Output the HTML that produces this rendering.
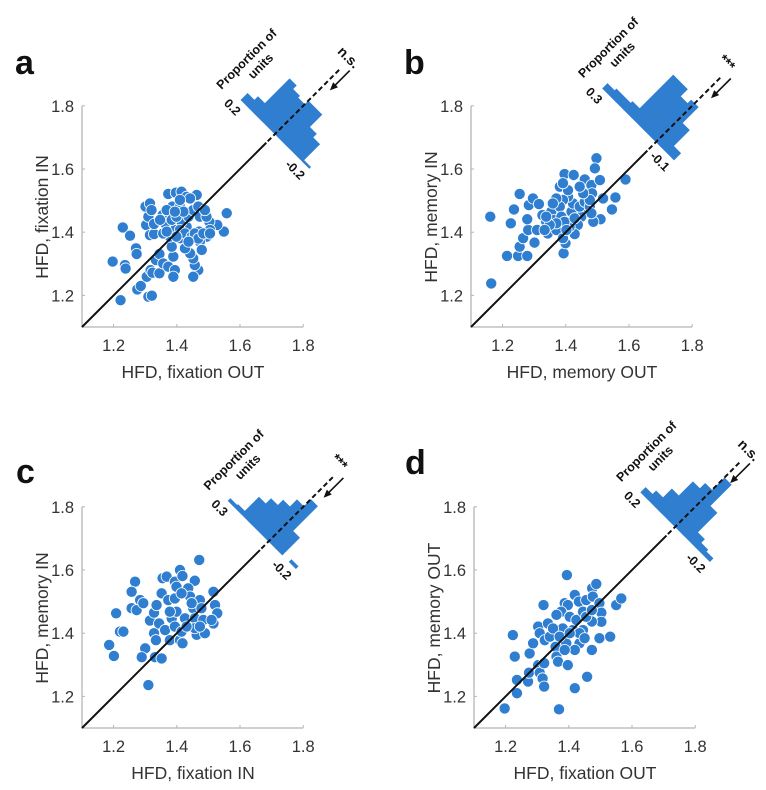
<!DOCTYPE html>
<html><head><meta charset="utf-8"><style>
html,body{margin:0;padding:0;background:#fff;}
svg{display:block;font-family:"Liberation Sans",sans-serif;}
</style></head><body>
<svg id="fig" width="766" height="790" viewBox="0 0 766 790"></svg>
<script>
// ---- data ----
const aX=[1.197,1.229,1.236,1.238,1.252,1.271,1.273,1.222,1.275,1.286,1.305,1.310,1.321,1.317,1.323,1.345,1.334,1.345,1.357,1.373,1.303,1.310,1.301,1.315,1.320,1.315,1.328,1.328,1.355,1.373,1.397,1.415,1.431,1.463,1.386,1.410,1.558,1.549,1.528,1.503,1.505,1.495,1.471,1.473,1.479,1.468,1.452,1.457,1.452,1.442,1.426,1.410,1.389,1.394,1.389,1.384,1.378,1.357,1.363,1.368,1.431,1.415,1.437,1.452,1.468,1.442,1.410,1.473,1.494,1.489,1.394,1.410,1.426,1.447,1.457,1.468,1.437,1.399,1.368,1.347,1.384,1.399,1.421,1.394,1.484,1.505];
const aY=[1.307,1.415,1.296,1.285,1.389,1.349,1.331,1.185,1.219,1.230,1.259,1.196,1.199,1.280,1.272,1.270,1.312,1.331,1.301,1.291,1.423,1.449,1.481,1.491,1.470,1.391,1.394,1.426,1.454,1.521,1.525,1.528,1.512,1.518,1.481,1.481,1.460,1.402,1.423,1.433,1.407,1.386,1.402,1.370,1.344,1.280,1.259,1.296,1.317,1.333,1.349,1.381,1.323,1.280,1.259,1.354,1.386,1.396,1.428,1.470,1.417,1.433,1.449,1.470,1.481,1.507,1.502,1.449,1.449,1.470,1.407,1.407,1.396,1.386,1.396,1.380,1.370,1.386,1.402,1.439,1.439,1.449,1.465,1.465,1.396,1.396];
const bX=[1.161,1.164,1.214,1.226,1.236,1.254,1.249,1.254,1.278,1.265,1.281,1.278,1.283,1.296,1.301,1.309,1.315,1.326,1.338,1.343,1.354,1.370,1.381,1.396,1.393,1.399,1.391,1.425,1.460,1.481,1.483,1.497,1.492,1.508,1.589,1.557,1.546,1.518,1.510,1.487,1.460,1.449,1.438,1.428,1.412,1.418,1.423,1.407,1.391,1.381,1.370,1.359,1.365,1.386,1.396,1.402,1.370,1.349,1.338,1.333,1.444,1.460,1.476,1.476,1.455,1.444,1.407,1.391,1.481,1.428];
const bY=[1.449,1.238,1.325,1.428,1.472,1.521,1.325,1.354,1.325,1.381,1.407,1.441,1.486,1.507,1.367,1.407,1.489,1.454,1.433,1.396,1.465,1.407,1.544,1.584,1.333,1.365,1.381,1.581,1.567,1.549,1.523,1.634,1.602,1.565,1.567,1.510,1.472,1.507,1.441,1.433,1.465,1.449,1.423,1.394,1.417,1.465,1.491,1.512,1.502,1.481,1.507,1.491,1.439,1.449,1.433,1.407,1.428,1.423,1.449,1.407,1.481,1.496,1.481,1.502,1.523,1.544,1.533,1.555,1.460,1.444];
const cX=[1.186,1.201,1.208,1.220,1.231,1.257,1.268,1.257,1.273,1.284,1.294,1.300,1.289,1.310,1.331,1.352,1.328,1.334,1.315,1.328,1.336,1.344,1.352,1.355,1.368,1.363,1.378,1.384,1.373,1.394,1.410,1.418,1.471,1.457,1.399,1.399,1.394,1.410,1.418,1.415,1.426,1.436,1.442,1.452,1.457,1.463,1.457,1.473,1.478,1.484,1.489,1.516,1.521,1.528,1.516,1.510,1.431,1.447,1.473,1.394,1.378,1.415];
const cY=[1.363,1.328,1.463,1.405,1.405,1.479,1.563,1.531,1.473,1.505,1.495,1.352,1.324,1.236,1.324,1.320,1.400,1.378,1.440,1.465,1.489,1.431,1.526,1.574,1.579,1.410,1.378,1.447,1.505,1.563,1.600,1.581,1.632,1.566,1.547,1.468,1.421,1.378,1.368,1.405,1.447,1.542,1.516,1.479,1.447,1.395,1.416,1.505,1.479,1.442,1.400,1.531,1.489,1.463,1.431,1.442,1.421,1.495,1.421,1.510,1.468,1.526];
const dX=[1.197,1.369,1.223,1.229,1.236,1.236,1.271,1.274,1.276,1.287,1.303,1.308,1.317,1.322,1.322,1.320,1.303,1.308,1.324,1.340,1.334,1.358,1.361,1.366,1.394,1.387,1.397,1.376,1.381,1.392,1.397,1.419,1.458,1.419,1.432,1.455,1.474,1.487,1.476,1.497,1.503,1.503,1.497,1.531,1.550,1.566,1.473,1.473,1.445,1.434,1.419,1.413,1.403,1.424,1.445,1.455,1.473,1.361,1.350,1.371,1.434,1.450,1.403,1.387];
const dY=[1.162,1.159,1.394,1.326,1.252,1.210,1.247,1.275,1.336,1.368,1.299,1.275,1.257,1.231,1.305,1.489,1.421,1.400,1.378,1.389,1.431,1.357,1.326,1.310,1.584,1.495,1.489,1.468,1.415,1.368,1.299,1.226,1.262,1.521,1.500,1.505,1.542,1.556,1.516,1.495,1.465,1.436,1.384,1.389,1.489,1.510,1.437,1.347,1.410,1.368,1.347,1.410,1.452,1.442,1.468,1.452,1.473,1.458,1.415,1.389,1.400,1.384,1.400,1.347];
const aHist=[0.04,0.06,0.20,0.18,0.17,0.19,0.19,0.12,0.10,0.01];
const bHist=[0.03,0.04,0.04,0.05,0.24,0.24,0.20,0.22,0.13,0.04];
const cHist=[0.015,0.02,0.10,0.13,0.16,0.20,0.24,0.10,0,0.015];
const dHist=[0.03,0.05,0.10,0.18,0.21,0.28,0.16,0.05,0.03,0.02];
const xTicks=[1.2,1.4,1.6,1.8];
const yTicks=[1.2,1.4,1.6,1.8];

const NS='http://www.w3.org/2000/svg';
const svg=document.getElementById('fig');
function mk(tag,attrs,parent,text){const e=document.createElementNS(NS,tag);for(const k in attrs)e.setAttribute(k,attrs[k]);if(text!==undefined)e.textContent=text;(parent||svg).appendChild(e);return e;}
const BLUE='#2f7ed0';
const S=316;

const panels=[
 {id:'a',ox:82,oy:327,X:aX,Y:aY,H:aHist,hs:0.2,hw:0.04,hsc:242,cv:1.71,lab:[15,74],xl:'HFD, fixation OUT',yl:'HFD, fixation IN',sig:'n.s.',t0:'0.2',t1:'-0.2'},
 {id:'b',ox:471,oy:327,X:bX,Y:bY,H:bHist,hs:0.3,hw:0.04,hsc:253,cv:1.685,lab:[404,74],xl:'HFD, memory OUT',yl:'HFD, memory IN',sig:'***',t0:'0.3',t1:'-0.1'},
 {id:'c',ox:82,oy:728,X:cX,Y:cY,H:cHist,hs:0.3,hw:0.05,hsc:192,cv:1.69,lab:[16,483],xl:'HFD, fixation IN',yl:'HFD, memory IN',sig:'***',t0:'0.3',t1:'-0.2'},
 {id:'d',ox:474,oy:728,X:dX,Y:dY,H:dHist,hs:0.2,hw:0.04,hsc:245,cv:1.736,lab:[405,474],xl:'HFD, fixation OUT',yl:'HFD, memory OUT',sig:'n.s.',t0:'0.2',t1:'-0.2'}
];

panels.forEach(p=>{
  const g=mk('g',{});
  
  
  const sx=v=>p.ox+(v-1.1)*S, sy=v=>p.oy-(v-1.1)*S;
  const L=mk('text',{x:p.lab[0],y:p.lab[1],'font-size':34,'font-weight':'bold',fill:'#111'},g,p.id);
  
  
  const ax=mk('path',{d:`M${p.ox},${sy(1.8)}V${p.oy}H${sx(1.8)}`,stroke:'#b5b5b5','stroke-width':1.3,fill:'none'},g);
  
  
  xTicks.forEach(t=>{
    mk('line',{x1:sx(t),x2:sx(t),y1:p.oy,y2:p.oy-3,stroke:'#b5b5b5'},g);
    const tx=mk('text',{x:sx(t),y:p.oy+24,'font-size':16.5,fill:'#333','text-anchor':'middle'},g,t.toFixed(1));
    
    
  });
  yTicks.forEach(t=>{
    mk('line',{x1:p.ox,x2:p.ox+3,y1:sy(t),y2:sy(t),stroke:'#b5b5b5'},g);
    const ty=mk('text',{x:p.ox-8,y:sy(t)+6,'font-size':16.5,fill:'#333','text-anchor':'end'},g,t.toFixed(1));
    
    
  });
  const xt=mk('text',{x:p.ox+111,y:p.oy+51,'font-size':17.5,fill:'#333','text-anchor':'middle'},g,p.xl);
  
  
  const yt=mk('text',{x:0,y:0,'font-size':17.5,fill:'#333','text-anchor':'middle',transform:`translate(${p.ox-34},${p.oy-110}) rotate(-90)`},g,p.yl);
  
  
  p.X.forEach((x,i)=>{
    const c=mk('circle',{cx:sx(x),cy:sy(p.Y[i]),r:5.6,fill:BLUE,stroke:'#fff','stroke-width':0.8},g);
    
    
  });
  const cx=sx(p.cv), cy=sy(p.cv);
  const hg=mk('g',{transform:`translate(${cx},${cy}) rotate(45)`},g);
  
  
  p.H.forEach((v,i)=>{
    const d0=p.hs-i*p.hw, d1=d0-p.hw;
    const u0=-d0*p.hsc, u1=-d1*p.hsc, h=v*250;
    if(h<=0)return;
    const r=mk('rect',{x:u0,y:-h,width:u1-u0+0.4,height:h,fill:BLUE},hg);
    
    
  });
  const uS=-p.hs*p.hsc, uE=-(p.hs-p.H.length*p.hw)*p.hsc;
  const dl=mk('line',{x1:sx(1.1),y1:sy(1.1),x2:cx-8.5,y2:cy+8.5,stroke:'#111','stroke-width':2},g);
  
  
  const dd=mk('line',{x1:0,y1:10,x2:0,y2:-92,stroke:'#111','stroke-width':2,'stroke-dasharray':'5,3'},hg);
  
  
  const t0=mk('text',{x:uS+8,y:15,'font-size':12.5,'font-weight':'bold',fill:'#111','text-anchor':'end'},hg,p.t0);
  
  
  const t1=mk('text',{x:uE+2,y:15,'font-size':12.5,'font-weight':'bold',fill:'#111','text-anchor':'end'},hg,p.t1);
  
  
  const ar=mk('g',{},hg);
  
  
  mk('line',{x1:8,y1:-98,x2:8,y2:-76,stroke:'#111','stroke-width':1.6},ar);
  mk('path',{d:'M8,-70 L4.5,-78 L11.5,-78Z',fill:'#111'},ar);
  const st=mk('text',{x:0,y:0,'font-size':14,'font-weight':'bold',fill:'#111','text-anchor':'start',transform:`translate(${cx+62},${cy-82}) rotate(45)`},g,p.sig);
  
  
  const sX=cx+uS*0.7071, sY=cy+uS*0.7071;
  const pl=mk('text',{x:0,y:0,'font-size':12.5,'font-weight':'bold',fill:'#111','text-anchor':'middle',transform:`translate(${sX+9},${sY-38}) rotate(-45)`},g,'Proportion of');
  
  
  const ul=mk('text',{x:0,y:0,'font-size':12.5,'font-weight':'bold',fill:'#111','text-anchor':'middle',transform:`translate(${sX+23},${sY-31}) rotate(-45)`},g,'units');
  
  
});
</script>
</body></html>
